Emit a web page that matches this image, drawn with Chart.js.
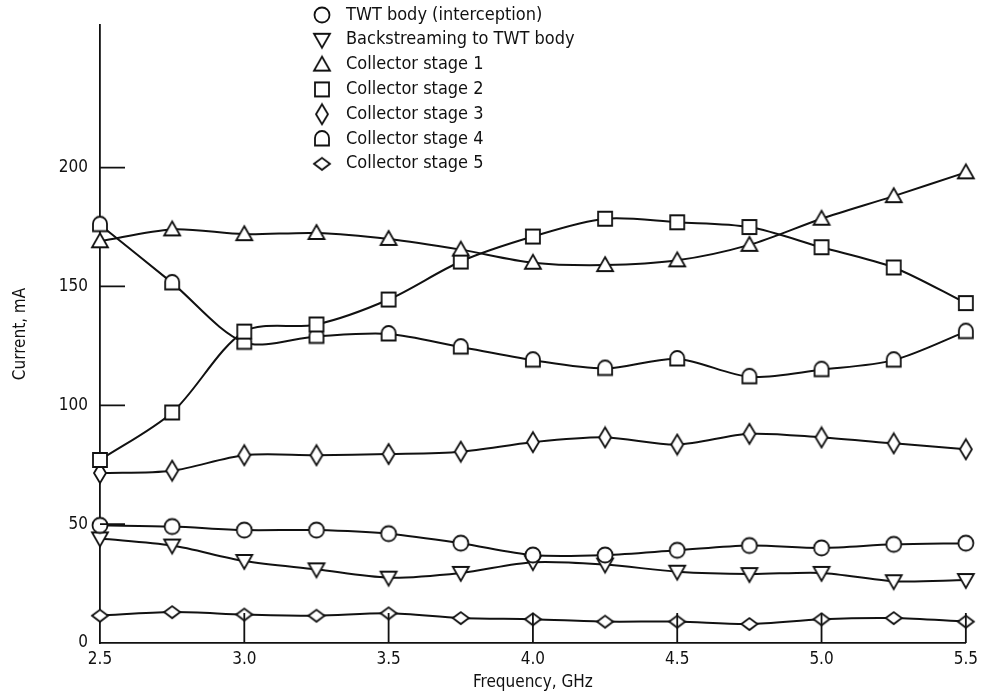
<!DOCTYPE html>
<html>
<head>
<meta charset="utf-8">
<script src="https://cdn.jsdelivr.net/npm/chart.js@4/dist/chart.umd.min.js"></script>
<style>
  html, body { margin: 0; padding: 0; background: #fff; }
  #wrap { width: 984px; height: 693px; }
</style>
</head>
<body>
<div id="wrap"><canvas id="myChart" width="984" height="693"></canvas></div>
<script>
// frequency, GHz (x positions of the points)
var freq = [2.5, 2.75, 3.0, 3.25, 3.5, 3.75, 4.0, 4.25, 4.5, 4.75, 5.0, 5.25, 5.5];
// tick labels
var xTicks = [2.5, 3.0, 3.5, 4.0, 4.5, 5.0, 5.5];
var yTicks = [0, 50, 100, 150, 200];
// current, mA
var twtBody    = [49.5, 49, 47.5, 47.5, 46, 42, 37, 37, 39, 41, 40, 41.5, 42];
var backstream = [44, 41, 34.5, 31, 27.5, 29.5, 34, 33, 30, 29, 29.5, 26, 26.5];
var stage1 = [169, 174, 172, 172.5, 170, 165.5, 160, 159, 161, 167.5, 178.5, 188, 198];
var stage2 = [77, 97, 131, 134, 144.5, 160.5, 171, 178.5, 177, 175, 166.5, 158, 143];
var stage3 = [71.5, 72.5, 79, 79, 79.5, 80.5, 84.5, 86.5, 83.5, 88, 86.5, 84, 81.5];
var stage4 = [176, 151.5, 126.5, 129, 130, 124.5, 119, 115.5, 119.5, 112, 115, 119, 131];
var stage5 = [11.5, 13, 12, 11.5, 12.5, 10.5, 10, 9, 9, 8, 10, 10.5, 9];

var labels = ["TWT body (interception)", "Backstreaming to TWT body", "Collector stage 1",
  "Collector stage 2", "Collector stage 3", "Collector stage 4", "Collector stage 5"];

var FONT = '"Liberation Sans Narrow", "DejaVu Sans Condensed", sans-serif';
var INK = "#111";

// open markers drawn on small canvases
function marker(kind) {
  var c = document.createElement("canvas");
  c.width = 24; c.height = 24;
  var g = c.getContext("2d");
  g.lineWidth = 1.8;
  g.strokeStyle = INK;
  g.fillStyle = "#fff";
  g.beginPath();
  if (kind == "circle") {
    g.arc(12, 12, 7.5, 0, Math.PI * 2);
  } else if (kind == "up") {
    g.moveTo(12, 4); g.lineTo(20, 18); g.lineTo(4, 18); g.closePath();
  } else if (kind == "down") {
    g.moveTo(4, 6); g.lineTo(20, 6); g.lineTo(12, 20); g.closePath();
  } else if (kind == "square") {
    g.rect(5, 5, 14, 14);
  } else if (kind == "tall") {
    g.moveTo(12, 2); g.lineTo(18, 12); g.lineTo(12, 22); g.lineTo(6, 12); g.closePath();
  } else if (kind == "dome") {
    g.moveTo(5, 18.5); g.lineTo(5, 11); g.arc(12, 11, 7, Math.PI, 0); g.lineTo(19, 18.5); g.closePath();
  } else if (kind == "wide") {
    g.moveTo(4, 12); g.lineTo(12, 6); g.lineTo(20, 12); g.lineTo(12, 18); g.closePath();
  }
  g.fill();
  g.stroke();
  return c;
}

var markers = [marker("circle"), marker("down"), marker("up"), marker("square"),
  marker("tall"), marker("dome"), marker("wide")];
var series = [twtBody, backstream, stage1, stage2, stage3, stage4, stage5];

function pts(vals) {
  return freq.map(function (f, i) { return { x: f, y: vals[i] }; });
}

var datasets = series.map(function (vals, i) {
  return {
    label: labels[i],
    data: pts(vals),
    borderColor: INK,
    borderWidth: 2,
    pointStyle: markers[i],
    pointRadius: 8,
    tension: 0.3,
    clip: false,
    fill: false
  };
});

// inward ticks and the vertical list legend
var extras = {
  id: "extras",
  afterDraw: function (chart) {
    var ctx = chart.ctx, a = chart.chartArea;
    var xs = chart.scales.x, ys = chart.scales.y;
    ctx.save();
    ctx.strokeStyle = INK;
    ctx.lineWidth = 1.8;
    ctx.beginPath();
    yTicks.slice(1).forEach(function (v) {
      var y = ys.getPixelForValue(v);
      ctx.moveTo(a.left, y); ctx.lineTo(a.left + 25, y);
    });
    xTicks.slice(1).forEach(function (v) {
      var x = xs.getPixelForValue(v);
      ctx.moveTo(x, a.bottom); ctx.lineTo(x, a.bottom - 30);
    });
    ctx.stroke();

    ctx.font = "18px " + FONT;
    ctx.fillStyle = INK;
    ctx.textBaseline = "middle";
    labels.forEach(function (t, i) {
      var y = 15 + i * 24.8;
      ctx.drawImage(markers[i], 322 - 12, y - 12);
      ctx.fillText(t, 346, y);
    });
    ctx.restore();
  }
};

new Chart(document.getElementById("myChart"), {
  type: "line",
  data: { datasets: datasets },
  options: {
    responsive: false,
    animation: false,
    layout: { padding: { top: 25, right: 17, left: 0, bottom: 0 } },
    plugins: { legend: { display: false }, tooltip: { enabled: false } },
    scales: {
      x: {
        type: "linear",
        min: 2.5, max: 5.5,
        afterBuildTicks: function (s) { s.ticks = xTicks.map(function (v) { return { value: v }; }); },
        afterFit: function (s) { s.height = 50; },
        grid: { display: false, drawTicks: false },
        border: { color: INK, width: 1.8 },
        ticks: {
          color: INK, padding: 6, maxRotation: 0,
          font: { family: FONT, size: 17 },
          callback: function (v) { return v.toFixed(1); }
        },
        title: {
          display: true, text: "Frequency, GHz", color: INK,
          font: { family: FONT, size: 17 }, padding: { top: 0, bottom: 0 }
        }
      },
      y: {
        min: 0, max: 260,
        afterBuildTicks: function (s) { s.ticks = yTicks.map(function (v) { return { value: v }; }); },
        afterFit: function (s) { s.width = 100; },
        grid: { display: false, drawTicks: false },
        border: { color: INK, width: 1.8 },
        ticks: { color: INK, padding: 12, font: { family: FONT, size: 17 } },
        title: {
          display: true, text: "Current, mA", color: INK,
          font: { family: FONT, size: 17 }, padding: { top: 10, bottom: 0 }
        }
      }
    }
  },
  plugins: [extras]
});
</script>
</body>
</html>
